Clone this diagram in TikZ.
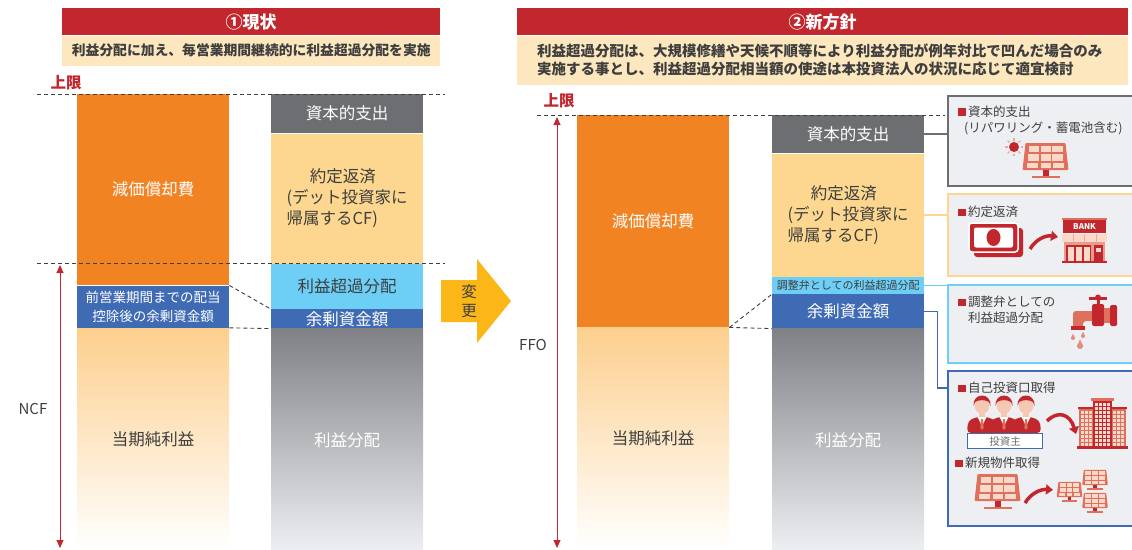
\documentclass[tikz,border=0pt]{standalone}
\usepackage{fontspec}
\setmainfont{Noto Sans CJK JP}
\usetikzlibrary{positioning,arrows.meta}

\definecolor{titlered}{RGB}{193,39,45}
\definecolor{subcream}{RGB}{253,231,190}
\definecolor{deprorange}{RGB}{242,131,34}
\definecolor{capexgray}{RGB}{109,110,113}
\definecolor{repayyellow}{RGB}{253,215,143}
\definecolor{excessblue}{RGB}{109,207,246}
\definecolor{surplusblue}{RGB}{63,106,180}
\definecolor{incomeyellow}{RGB}{252,207,142}
\definecolor{distgray}{RGB}{128,129,134}
\definecolor{changeyellow}{RGB}{251,183,23}
\definecolor{panelgray}{RGB}{238,239,242}
\definecolor{bodytext}{RGB}{62,62,62}
\definecolor{iconred}{RGB}{193,39,45}
\definecolor{iconsalmon}{RGB}{222,112,92}
\definecolor{iconpale}{RGB}{250,216,202}
\definecolor{skin}{RGB}{245,200,180}

\newcommand{\marksq}{\textcolor{iconred}{\rule[0.5pt]{7.5pt}{7.5pt}}\hspace{2.5pt}}

% small illustrations for the right-hand panels
\tikzset{
  solar/.pic={
    \fill[iconsalmon,rounded corners=1pt] (-20,-13.5) -- (20,-13.5) -- (23,13.5) -- (-23,13.5) -- cycle;
    \foreach \ya/\yb/\w in {-11/-4.5/0, -2.5/4/1, 6/11.5/2} {
      \fill[iconpale] (-17-\w*0.6,\ya) rectangle (-6.5-\w*0.4,\yb);
      \fill[iconpale] (-5,\ya) rectangle (5,\yb);
      \fill[iconpale] (6.5+\w*0.4,\ya) rectangle (17+\w*0.6,\yb);
    }
    \fill[iconred] (-3,13.5) rectangle (3,19);
    \fill[iconsalmon] (-14,19) rectangle (14,21.5);
  },
  sun/.pic={
    \foreach \a in {0,45,...,315}
      \draw[iconsalmon!60,line width=1.2pt] (\a:6.5) -- (\a:9);
    \fill[iconred] (0,0) circle (5);
  },
  money/.pic={
    \fill[iconred,rounded corners=3pt] (5,5) rectangle (54,34);
    \filldraw[fill=iconred,draw=white,line width=1.5pt,rounded corners=3pt] (0,0) rectangle (49,29);
    \fill[white,rounded corners=2pt] (5,4.5) rectangle (44,24.5);
    \fill[iconred] (24.5,14.5) ellipse (7 and 8.5);
  },
  bank/.pic={
    \fill[iconsalmon] (0,0) rectangle (45,2);
    \fill[iconred] (1,2) rectangle (44,15);
    \node[text=white,inner sep=0pt,font=\bfseries\fontsize{8}{8}\selectfont] (sign) at (22.5,8.5) {BANK};
    \fill[iconpale] (0,16) rectangle (45,24);
    \foreach \x in {11,22.5,34}
      \fill[iconsalmon!60] (\x-0.5,16) rectangle (\x+0.5,24);
    \fill[iconsalmon!70] (2,24) rectangle (43,43);
    \fill[iconred] (4,27) rectangle (29,43);
    \foreach \x in {6,14,22}
      \fill[iconpale] (\x,29) rectangle (\x+5.5,43);
    \fill[iconred] (32,27) rectangle (41,43);
    \fill[iconpale] (34,30) rectangle (38.5,34);
    \fill[iconred] (0,43) rectangle (45,45);
  },
  faucet/.pic={
    \fill[iconsalmon,rounded corners=3pt] (3,34) -- (3,16) -- (24,16) -- (24,26) -- (13,26) -- (13,34) -- cycle;
    \fill[iconred] (1,31) rectangle (15,35);
    \fill[iconred,rounded corners=1.5pt] (22,9) rectangle (34,31);
    \fill[iconsalmon] (34,13) rectangle (40,28);
    \fill[iconred,rounded corners=1.5pt] (40,10) rectangle (47,31);
    \fill[iconred] (26.5,3) rectangle (29.5,9);
    \fill[iconred] (19,2) rectangle (37,4.5);
    \fill[iconred] (28,2.5) circle (3);
    \foreach \dx/\dy/\s in {3/43/0.8, 13/41/0.8, 10/51/1.2} {
      \fill[iconsalmon!80] (\dx,\dy) circle (2.5*\s);
      \fill[iconsalmon!80] (\dx-2.4*\s,\dy) -- (\dx,\dy-5.5*\s) -- (\dx+2.4*\s,\dy) -- cycle;
    }
  },
  person/.pic={
    \fill[iconred,rounded corners=4pt] (-15,28) -- (-14,16) -- (-6,12) -- (6,12) -- (14,16) -- (15,28) -- cycle;
    \fill[skin] (-3,6) rectangle (3,14);
    \fill[white] (-4.5,12) -- (0,21) -- (4.5,12) -- cycle;
    \fill[iconsalmon] (-1,14) -- (1,14) -- (1.6,23) -- (0,25) -- (-1.6,23) -- cycle;
    \fill[skin] (0,0) ellipse (7.5 and 9);
    \fill[iconred] (-8.5,1) .. controls (-9.5,-13) and (9.5,-13) .. (8.5,1) -- (7,-3) .. controls (3,-5.5) and (-3,-5.5) .. (-7,-3) -- cycle;
  },
  tower/.pic={
    \fill[iconsalmon] (0,10) rectangle (15,50);
    \fill[iconsalmon] (32,10) rectangle (47,50);
    \fill[iconred] (-1,8.5) rectangle (16,10.5);
    \fill[iconred] (31,8.5) rectangle (48,10.5);
    \foreach \x in {2,6,10,34,38,42}
      \foreach \y in {13,17,...,45}
        \fill[iconpale] (\x,\y) rectangle (\x+2.5,\y+2.5);
    \fill[iconred] (14,2) rectangle (33,50);
    \fill[iconsalmon] (12,0) rectangle (35,3);
    \foreach \x in {16,20,24,28}
      \foreach \y in {5,9,...,45}
        \fill[iconpale] (\x,\y) rectangle (\x+2.5,\y+2.5);
    \fill[iconred] (-2,48) rectangle (49,50.5);
  }
}

\begin{document}
\begin{tikzpicture}[x=1pt,y=-1pt,
    >={Triangle[length=8pt,width=7pt]},
    seg/.style={rectangle,anchor=north west,minimum width=152pt,inner sep=0pt,
      text=white,font=\fontsize{16.5}{21}\selectfont},
    incomefade/.style={top color=incomeyellow,middle color=incomeyellow!72,bottom color=white,text=bodytext},
    distfade/.style={top color=distgray,middle color=distgray!62,bottom color=panelgray},
    titlebar/.style={rectangle,anchor=north west,fill=titlered,text=white,inner sep=0pt,
      minimum height=27pt,font=\bfseries\fontsize{17}{20}\selectfont},
    subbar/.style={rectangle,fill=subcream,text=bodytext,inner sep=0pt,
      font=\bfseries\fontsize{13.8}{18}\selectfont},
    limit/.style={text=titlered,inner sep=0pt,font=\bfseries\fontsize{15.5}{18}\selectfont},
    guide/.style={draw=bodytext,line width=0.9pt,dash pattern=on 4pt off 3pt},
    spanarrow/.style={<->,draw=titlered,line width=0.9pt},
    axislabel/.style={text=bodytext,inner sep=0pt,font=\fontsize{15}{18}\selectfont},
    panel/.style={rectangle,anchor=north west,fill=panelgray,line width=2.2pt,
      minimum width=195pt,inner sep=0pt},
    note/.style={anchor=west,align=left,inner sep=0pt,text=bodytext,
      font=\fontsize{12.5}{16}\selectfont},
    tie/.style={line width=1.8pt},
    iconarrow/.style={iconred,line width=3.5pt,-{Triangle[length=7pt,width=10pt]}}
  ]
  \useasboundingbox (0,0) rectangle (1132,549);

  % ---- left half: current policy
  \node[titlebar,minimum width=378pt] (titleL) at (62,8) {①現状};
  \node[subbar,minimum width=378pt,minimum height=30pt,below=0pt of titleL] (subL)
    {利益分配に加え、毎営業期間継続的に利益超過分配を実施};
  \node[limit] (limitL) at (66,83) {上限};

  \node[seg,fill=deprorange,minimum height=191pt] (deprL) at (77,94) {減価償却費};
  \node[seg,fill=surplusblue,minimum height=42pt,align=center,
    font=\fontsize{13.5}{19}\selectfont,below=0pt of deprL] (surplusL)
    {前営業期間までの配当\\控除後の余剰資金額};
  \node[seg,incomefade,minimum height=222pt,below=0pt of surplusL] (incomeL) {当期純利益};

  \node[seg,fill=capexgray,minimum height=39pt] (capexL) at (271,94) {資本的支出};
  \node[seg,fill=repayyellow,text=bodytext,minimum height=130pt,align=left,
    below=0pt of capexL] (repayL) {\hspace*{1.4em}約定返済\\(デット投資家に\\帰属するCF)};
  \node[seg,fill=excessblue,text=bodytext,minimum height=45pt,below=0pt of repayL] (excessL) {利益超過分配};
  \node[seg,fill=surplusblue,minimum height=19pt,below=0pt of excessL] (surplus2L) {余剰資金額};
  \node[seg,distfade,minimum height=222pt,below=0pt of surplus2L] (distL) {利益分配};

  \coordinate (capL1) at (37,94);  \coordinate (capL2) at (445,94);
  \coordinate (ncfL1) at (37,263); \coordinate (ncfL2) at (445,263);
  \draw[guide] (capL1) -- (capL2);
  \draw[guide] (ncfL1) -- (ncfL2);
  \draw[guide] (surplusL.north east) -- (surplus2L.north west);
  \draw[guide] (surplusL.south east) -- (surplus2L.south west);

  \coordinate (ncfTop) at (60,265);
  \coordinate (ncfBot) at (60,548);
  \draw[spanarrow] (ncfTop) -- (ncfBot);
  \node[axislabel] (ncf) at (33,409) {NCF};

  % ---- change arrow
  \fill[changeyellow] (441,280) -- (477,280) -- (477,259) -- (511,301) -- (477,343)
    -- (477,322) -- (441,322) -- cycle;
  \node[text=bodytext,align=center,inner sep=0pt,font=\fontsize{15.5}{19}\selectfont]
    (change) at (469,301) {変\\更};

  % ---- right half: new policy
  \node[titlebar,minimum width=611pt] (titleR) at (517,8) {②新方針};
  \node[subbar,minimum width=611pt,minimum height=49pt,text width=571pt,align=left,
    font=\bfseries\fontsize{14.5}{18}\selectfont,below=0pt of titleR] (subR)
    {利益超過分配は、大規模修繕や天候不順等により利益分配が例年対比で凹んだ場合のみ\\
     実施する事とし、利益超過分配相当額の使途は本投資法人の状況に応じて適宜検討};
  \node[limit] (limitR) at (559,101) {上限};

  \node[seg,fill=deprorange,minimum height=212pt] (deprR) at (577,115) {減価償却費};
  \node[seg,incomefade,minimum height=222pt,below=0pt of deprR] (incomeR) {当期純利益};

  \node[seg,fill=capexgray,minimum height=38pt] (capexR) at (772,115) {資本的支出};
  \node[seg,fill=repayyellow,text=bodytext,minimum height=123pt,align=left,
    below=0pt of capexR] (repayR) {\hspace*{1.4em}約定返済\\(デット投資家に\\帰属するCF)};
  \node[seg,fill=excessblue,text=bodytext,minimum height=17pt,
    font=\fontsize{11}{13}\selectfont,below=0pt of repayR] (valveR) {調整弁としての利益超過分配};
  \node[seg,fill=surplusblue,minimum height=34pt,below=0pt of valveR] (surplus2R) {余剰資金額};
  \node[seg,distfade,minimum height=222pt,below=0pt of surplus2R] (distR) {利益分配};

  \coordinate (capR1) at (537,115); \coordinate (capR2) at (945,115);
  \draw[guide] (capR1) -- (capR2);
  \draw[guide] (deprR.south east) -- (surplus2R.north west);
  \draw[guide] (deprR.south east) -- (surplus2R.south west);

  \coordinate (ffoTop) at (557,117);
  \coordinate (ffoBot) at (557,548);
  \draw[spanarrow] (ffoTop) -- (ffoBot);
  \node[axislabel] (ffo) at (533,345) {FFO};

  % ---- panels on the right
  \node[panel,draw=capexgray,minimum height=90pt] (panelCapex) at (947,95) {};
  \node[panel,draw=repayyellow,minimum height=82pt] (panelRepay) at (947,193) {};
  \node[panel,draw=excessblue,minimum height=78pt] (panelValve) at (947,284) {};
  \node[panel,draw=surplusblue,minimum height=155pt] (panelUse) at (947,370) {};

  \draw[tie,capexgray] (capexR.east) -- (capexR.east -| panelCapex.west);
  \draw[tie,repayyellow] (repayR.east) -- (repayR.east -| panelRepay.west);
  \draw[tie,excessblue] (valveR.east) -- (valveR.east -| panelValve.west);
  \draw[tie,surplusblue] (surplus2R.east) -- ++(13,0) |- ([yshift=-18pt]panelUse.north west);

  \node[note] (noteCapex) at (958,120) {\marksq 資本的支出\\\hspace*{6pt}(リパワリング・蓄電池含む)};
  \pic at (1014,147) {sun};
  \pic at (1045.5,156.5) {solar};

  \node[note] (noteRepay) at (958,212) {\marksq 約定返済};
  \pic at (969,223) {money};
  \draw[iconarrow] (1030,249) .. controls (1036,239) and (1046,235) .. (1058,237);
  \pic at (1062,218) {bank};

  \node[note] (noteValve) at (958,310) {\marksq 調整弁としての\\\hspace*{10pt}利益超過分配};
  \pic at (1070,295) {faucet};

  \node[note] (noteBuyback) at (958,388) {\marksq 自己投資口取得};
  \pic at (982,405) {person};
  \pic at (1026,405) {person};
  \pic at (1004,405) {person};
  \node[draw=surplusblue,fill=white,line width=1.2pt,anchor=north west,inner sep=0pt,
    minimum width=75pt,minimum height=15pt,text=capexgray,
    font=\fontsize{10.5}{12}\selectfont] (investorTag) at (967,433) {投資主};
  \draw[iconarrow] (1047,421) .. controls (1058,410) and (1070,414) .. (1076,434);
  \pic at (1079,398) {tower};

  \node[note] (noteAcquire) at (955,463) {\marksq 新規物件取得};
  \pic at (997.5,487.5) {solar};
  \draw[iconarrow] (1025,503) .. controls (1031,493) and (1041,489) .. (1053,490);
  \pic[scale=0.56] at (1069.5,489.5) {solar};
  \pic[scale=0.56] at (1095,477.5) {solar};
  \pic[scale=0.56] at (1095,500.5) {solar};
\end{tikzpicture}
\end{document}
